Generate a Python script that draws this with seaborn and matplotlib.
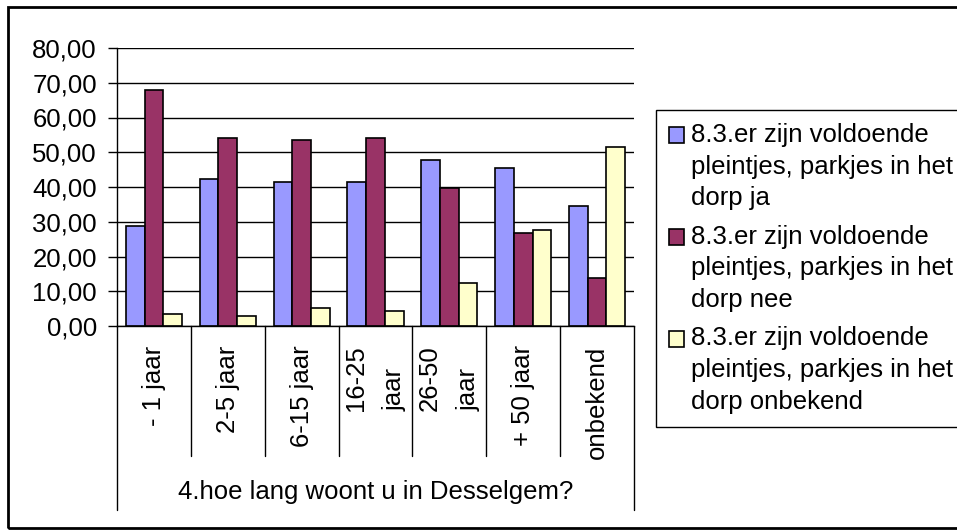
import numpy as np
import pandas as pd
import matplotlib
matplotlib.use("Agg")
import matplotlib.pyplot as plt
from matplotlib.patches import Rectangle
from matplotlib.legend_handler import HandlerPatch
from matplotlib.ticker import FuncFormatter
import seaborn as sns

categories = ['- 1 jaar', '2-5 jaar', '6-15 jaar', '16-25\njaar', '26-50\njaar', '+ 50 jaar', 'onbekend']
series = ['8.3.er zijn voldoende\npleintjes, parkjes in het\ndorp ja',
          '8.3.er zijn voldoende\npleintjes, parkjes in het\ndorp nee',
          '8.3.er zijn voldoende\npleintjes, parkjes in het\ndorp onbekend']
ja = [28.7, 42.4, 41.3, 41.3, 47.7, 45.5, 34.4]
nee = [67.9, 54.0, 53.5, 54.0, 39.6, 26.9, 13.7]
onbekend = [3.4, 2.8, 5.1, 4.4, 12.5, 27.5, 51.6]
y_ticks = [0, 10, 20, 30, 40, 50, 60, 70, 80]
colors = ['#9999FF', '#993366', '#FFFFCC']
group_label = '4.hoe lang woont u in Desselgem?'

df = pd.DataFrame({
    'categorie': categories * 3,
    'reeks': np.repeat(series, len(categories)),
    'waarde': ja + nee + onbekend,
})

sns.set_style('white')
plt.rcParams['font.family'] = ['Liberation Sans', 'DejaVu Sans']
plt.rcParams['font.size'] = 18.5
for key in ['text.color', 'axes.labelcolor', 'xtick.color', 'ytick.color']:
    plt.rcParams[key] = 'black'

W, H = 957, 532
fig = plt.figure(figsize=(W / 100, H / 100), dpi=100)
ax = fig.add_axes([117 / W, 1 - 326 / H, (634 - 117) / W, (326 - 48) / H])

sns.barplot(data=df, x='categorie', y='waarde', hue='reeks', palette=colors,
            width=0.76, edgecolor='black', linewidth=1.2, saturation=1,
            legend=False, ax=ax)

n = len(categories)
ax.set_xlim(-0.5, n - 0.5)
ax.set_ylim(0, 80)
ax.set_yticks(y_ticks)
ax.yaxis.set_major_formatter(FuncFormatter(lambda v, p: f'{v:.2f}'.replace('.', ',')))
ax.yaxis.grid(True, color='black', lw=1)
ax.set_axisbelow(True)
ax.set_xlabel('')
ax.set_ylabel('')
for s in ['top', 'right']:
    ax.spines[s].set_visible(False)
for s in ['left', 'bottom']:
    ax.spines[s].set_color('black')
    ax.spines[s].set_linewidth(1)
ax.tick_params(axis='y', direction='out', length=6.5, width=1, color='black', pad=8, left=True)
ax.tick_params(axis='x', length=0, pad=14)
ax.set_xticks(range(n))
ax.set_xticklabels(categories, rotation=90, multialignment='left', linespacing=1.8)

# category separators + group box below the axis
trans = ax.get_xaxis_transform()
for k in range(n + 1):
    bottom = -(510 - 326) / 278 if k in (0, n) else -(456 - 326) / 278
    ax.plot([k - 0.5, k - 0.5], [0, bottom], transform=trans, color='black',
            lw=1, clip_on=False)
ax.text(0.5, -(499 - 326) / 278, group_label, transform=ax.transAxes,
        ha='center', va='baseline')

# legend, marker next to the first line of each label
line_shift = 23


def first_line_patch(legend, orig_handle, xdescent, ydescent, width, height, fontsize):
    return Rectangle((-xdescent, -ydescent + line_shift), width, height)


handles = [Rectangle((0, 0), 1, 1, facecolor=c, edgecolor='black', lw=1.2) for c in colors]
leg = fig.legend(handles, series, loc='upper left', bbox_to_anchor=(656 / W, 1 - 110 / H),
                 borderaxespad=0, frameon=True, fancybox=False, edgecolor='black',
                 framealpha=1, handlelength=0.58, handleheight=0.58, handletextpad=0.27,
                 borderpad=0.5, labelspacing=0.55,
                 handler_map={Rectangle: HandlerPatch(patch_func=first_line_patch)})
leg.get_frame().set_linewidth(1)
for t in leg.get_texts():
    t.set_linespacing(1.41)

fig.add_artist(Rectangle((8 / W, 1 - 528 / H), (965 - 8) / W, (528 - 7) / H,
                         transform=fig.transFigure, fill=False, edgecolor='black', lw=2))

fig.savefig('out.png', dpi=100)
